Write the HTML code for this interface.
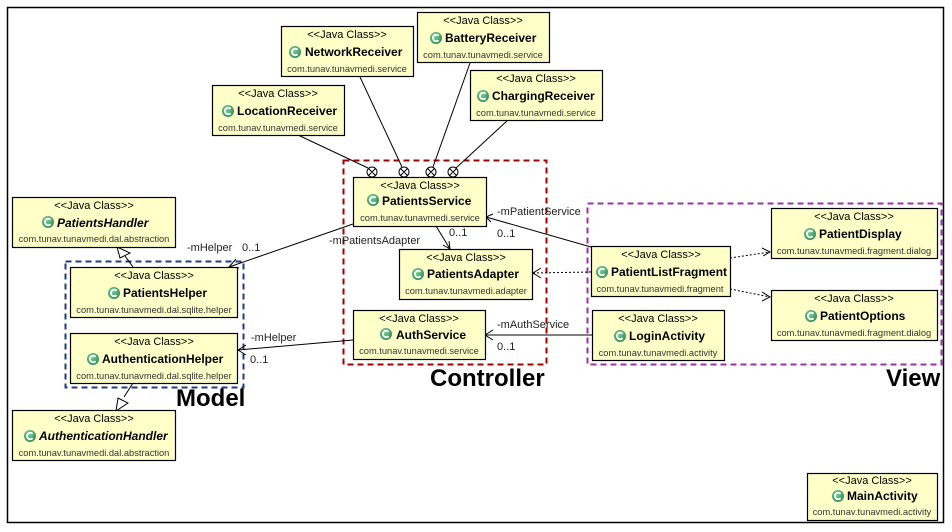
<!DOCTYPE html>
<html><head><meta charset="utf-8"><style>
html,body{margin:0;padding:0;background:#fff;}
svg{display:block;font-family:"Liberation Sans",Arial,sans-serif;}
.st{font-size:11px;fill:#000;text-anchor:middle}
.nm{font-size:12px;font-weight:bold;fill:#000}
.pk{font-size:9.3px;fill:#333;text-anchor:middle}
.lb{font-size:11px;fill:#222}
.box{fill:#ffffc8;stroke:#000;stroke-width:1.2}
</style></head><body>
<svg width="952" height="532" viewBox="0 0 952 532" xmlns="http://www.w3.org/2000/svg">
<defs>
<radialGradient id="g" cx="0.4" cy="0.35" r="0.7"><stop offset="0" stop-color="#7fcf9a"/><stop offset="1" stop-color="#2e8b57"/></radialGradient>
<g id="ic"><circle r="6" fill="url(#g)"/><path d="M2.6,-2.3 A3.3,3.3 0 1 0 2.6,2.3" fill="none" stroke="#fff" stroke-width="1.8"/></g>
</defs>
<rect x="7.5" y="7.5" width="936" height="515" fill="none" stroke="#000" stroke-width="1.5"/>

<rect x="343.5" y="160.5" width="203" height="204" fill="none" stroke="#a00000" stroke-width="2" stroke-dasharray="6,4"/>
<rect x="65.5" y="261.5" width="178" height="126" fill="none" stroke="#1f3a8a" stroke-width="2" stroke-dasharray="6,4"/>
<rect x="587.5" y="203.5" width="354" height="161" fill="none" stroke="#9b30a8" stroke-width="2" stroke-dasharray="6,4"/>
<text x="176" y="406" font-size="24" font-weight="bold">Model</text>
<text x="430" y="386" font-size="24" font-weight="bold">Controller</text>
<text x="886" y="386" font-size="24" font-weight="bold">View</text>

<g stroke="#000" stroke-width="1" fill="none">
<line x1="298" y1="135" x2="368" y2="168"/>
<line x1="360" y1="77" x2="402" y2="167"/>
<line x1="470" y1="63" x2="433" y2="167"/>
<line x1="508" y1="120" x2="456" y2="168"/>
<line x1="353" y1="224" x2="229" y2="267"/>
<polyline points="236,259 229,267 239,268"/>
<line x1="353" y1="340" x2="238" y2="350"/>
<polyline points="246,345 238,350 246,355"/>
<line x1="436" y1="226" x2="450" y2="249"/>
<polyline points="443,245 450,249 449,241"/>
<line x1="591" y1="247" x2="486" y2="217"/>
<polyline points="493,214 486,217 491,222"/>
<line x1="592" y1="335" x2="485" y2="335"/>
<polyline points="493,330 485,335 493,340"/>
<g stroke-dasharray="2,2">
<line x1="591" y1="272" x2="533" y2="273"/>
<line x1="730" y1="258" x2="770" y2="252"/>
<line x1="730" y1="289" x2="770" y2="297"/>
<line x1="133" y1="267" x2="125" y2="256" stroke-dasharray="none"/>
<line x1="133" y1="383" x2="124" y2="397" stroke-dasharray="none"/>
</g>
<polyline points="541,268 533,273 541,278"/>
<polyline points="762,248 770,252 763,256"/>
<polyline points="762,292 770,297 762,301"/>
<polygon points="117,247 120,258 130,253" fill="#fff"/>
<polygon points="116,411 118,398 128,403" fill="#fff"/>
</g>
<g fill="#fff" stroke="#000" stroke-width="1">
<circle cx="372" cy="172" r="5"/><circle cx="404" cy="172" r="5"/><circle cx="431" cy="172" r="5"/><circle cx="453" cy="172" r="5"/>
</g>
<g stroke="#000" stroke-width="1">
<path d="M368.5,168.5l7,7M375.5,168.5l-7,7M400.5,168.5l7,7M407.5,168.5l-7,7M427.5,168.5l7,7M434.5,168.5l-7,7M449.5,168.5l7,7M456.5,168.5l-7,7"/>
</g>
<text class="lb" x="187" y="251">-mHelper</text><text class="lb" x="242" y="251">0..1</text>
<text class="lb" x="329" y="244">-mPatientsAdapter</text><text class="lb" x="449" y="236">0..1</text>
<text class="lb" x="251" y="341">-mHelper</text><text class="lb" x="250" y="363">0..1</text>
<text class="lb" x="497" y="215">-mPatientService</text><text class="lb" x="497" y="237">0..1</text>
<text class="lb" x="497" y="328">-mAuthService</text><text class="lb" x="497" y="350">0..1</text>

<rect class="box" x="281.5" y="26.5" width="132" height="50"/>
<text class="st" x="347" y="38">&lt;&lt;Java Class&gt;&gt;</text><use href="#ic" x="295" y="52"/><text class="nm" x="305" y="56">NetworkReceiver</text><text class="pk" x="347" y="72">com.tunav.tunavmedi.service</text>

<rect class="box" x="417.5" y="12.5" width="132" height="50"/>
<text class="st" x="483" y="24">&lt;&lt;Java Class&gt;&gt;</text><use href="#ic" x="436" y="38"/><text class="nm" x="445" y="42">BatteryReceiver</text><text class="pk" x="483" y="58">com.tunav.tunavmedi.service</text>

<rect class="box" x="212.5" y="85.5" width="132" height="50"/>
<text class="st" x="278" y="97">&lt;&lt;Java Class&gt;&gt;</text><use href="#ic" x="228" y="111"/><text class="nm" x="237" y="115">LocationReceiver</text><text class="pk" x="278" y="131">com.tunav.tunavmedi.service</text>

<rect class="box" x="470.5" y="70.5" width="132" height="50"/>
<text class="st" x="536" y="82">&lt;&lt;Java Class&gt;&gt;</text><use href="#ic" x="483" y="96"/><text class="nm" x="492" y="100">ChargingReceiver</text><text class="pk" x="536" y="116">com.tunav.tunavmedi.service</text>

<rect class="box" x="353.5" y="177.5" width="133" height="49"/>
<text class="st" x="420" y="189">&lt;&lt;Java Class&gt;&gt;</text><use href="#ic" x="373" y="200"/><text class="nm" x="382" y="205">PatientsService</text><text class="pk" x="420" y="221">com.tunav.tunavmedi.service</text>

<rect class="box" x="399.5" y="249.5" width="133" height="50"/>
<text class="st" x="466" y="261">&lt;&lt;Java Class&gt;&gt;</text><use href="#ic" x="418" y="274"/><text class="nm" x="427" y="278">PatientsAdapter</text><text class="pk" x="466" y="294">com.tunav.tunavmedi.adapter</text>

<rect class="box" x="353.5" y="310.5" width="132" height="49"/>
<text class="st" x="419" y="322">&lt;&lt;Java Class&gt;&gt;</text><use href="#ic" x="386" y="334"/><text class="nm" x="396" y="339">AuthService</text><text class="pk" x="419" y="354">com.tunav.tunavmedi.service</text>

<rect class="box" x="591.5" y="246.5" width="139" height="50"/>
<text class="st" x="661" y="258">&lt;&lt;Java Class&gt;&gt;</text><use href="#ic" x="602" y="272"/><text class="nm" x="611" y="276">PatientListFragment</text><text class="pk" x="660" y="292">com.tunav.tunavmedi.fragment</text>

<rect class="box" x="592.5" y="310.5" width="132" height="50"/>
<text class="st" x="658" y="322">&lt;&lt;Java Class&gt;&gt;</text><use href="#ic" x="620" y="336"/><text class="nm" x="629" y="340">LoginActivity</text><text class="pk" x="658" y="356">com.tunav.tunavmedi.activity</text>

<rect class="box" x="771.5" y="208.5" width="166" height="50"/>
<text class="st" x="854" y="220">&lt;&lt;Java Class&gt;&gt;</text><use href="#ic" x="810" y="234"/><text class="nm" x="819" y="238">PatientDisplay</text><text class="pk" x="854" y="254">com.tunav.tunavmedi.fragment.dialog</text>

<rect class="box" x="771.5" y="290.5" width="166" height="50"/>
<text class="st" x="854" y="302">&lt;&lt;Java Class&gt;&gt;</text><use href="#ic" x="811" y="316"/><text class="nm" x="820" y="320">PatientOptions</text><text class="pk" x="854" y="336">com.tunav.tunavmedi.fragment.dialog</text>

<rect class="box" x="12.5" y="197.5" width="163" height="50"/>
<text class="st" x="94" y="209">&lt;&lt;Java Class&gt;&gt;</text><use href="#ic" x="48" y="222"/><text class="nm" x="57" y="227" font-style="italic">PatientsHandler</text><text class="pk" x="94" y="242">com.tunav.tunavmedi.dal.abstraction</text>

<rect class="box" x="70.5" y="267.5" width="167" height="50"/>
<text class="st" x="154" y="279">&lt;&lt;Java Class&gt;&gt;</text><use href="#ic" x="114" y="293"/><text class="nm" x="123" y="297">PatientsHelper</text><text class="pk" x="154" y="313">com.tunav.tunavmedi.dal.sqlite.helper</text>

<rect class="box" x="70.5" y="333.5" width="167" height="50"/>
<text class="st" x="154" y="345">&lt;&lt;Java Class&gt;&gt;</text><use href="#ic" x="93" y="359"/><text class="nm" x="102" y="363">AuthenticationHelper</text><text class="pk" x="154" y="379">com.tunav.tunavmedi.dal.sqlite.helper</text>

<rect class="box" x="12.5" y="410.5" width="163" height="50"/>
<text class="st" x="94" y="422">&lt;&lt;Java Class&gt;&gt;</text><use href="#ic" x="30" y="436"/><text class="nm" x="39" y="440" font-style="italic">AuthenticationHandler</text><text class="pk" x="94" y="456">com.tunav.tunavmedi.dal.abstraction</text>

<rect class="box" x="807.5" y="473.5" width="130" height="47"/>
<text class="st" x="872" y="484">&lt;&lt;Java Class&gt;&gt;</text><use href="#ic" x="838" y="496"/><text class="nm" x="847" y="500">MainActivity</text><text class="pk" x="872" y="515">com.tunav.tunavmedi.activity</text>
</svg>
</body></html>
